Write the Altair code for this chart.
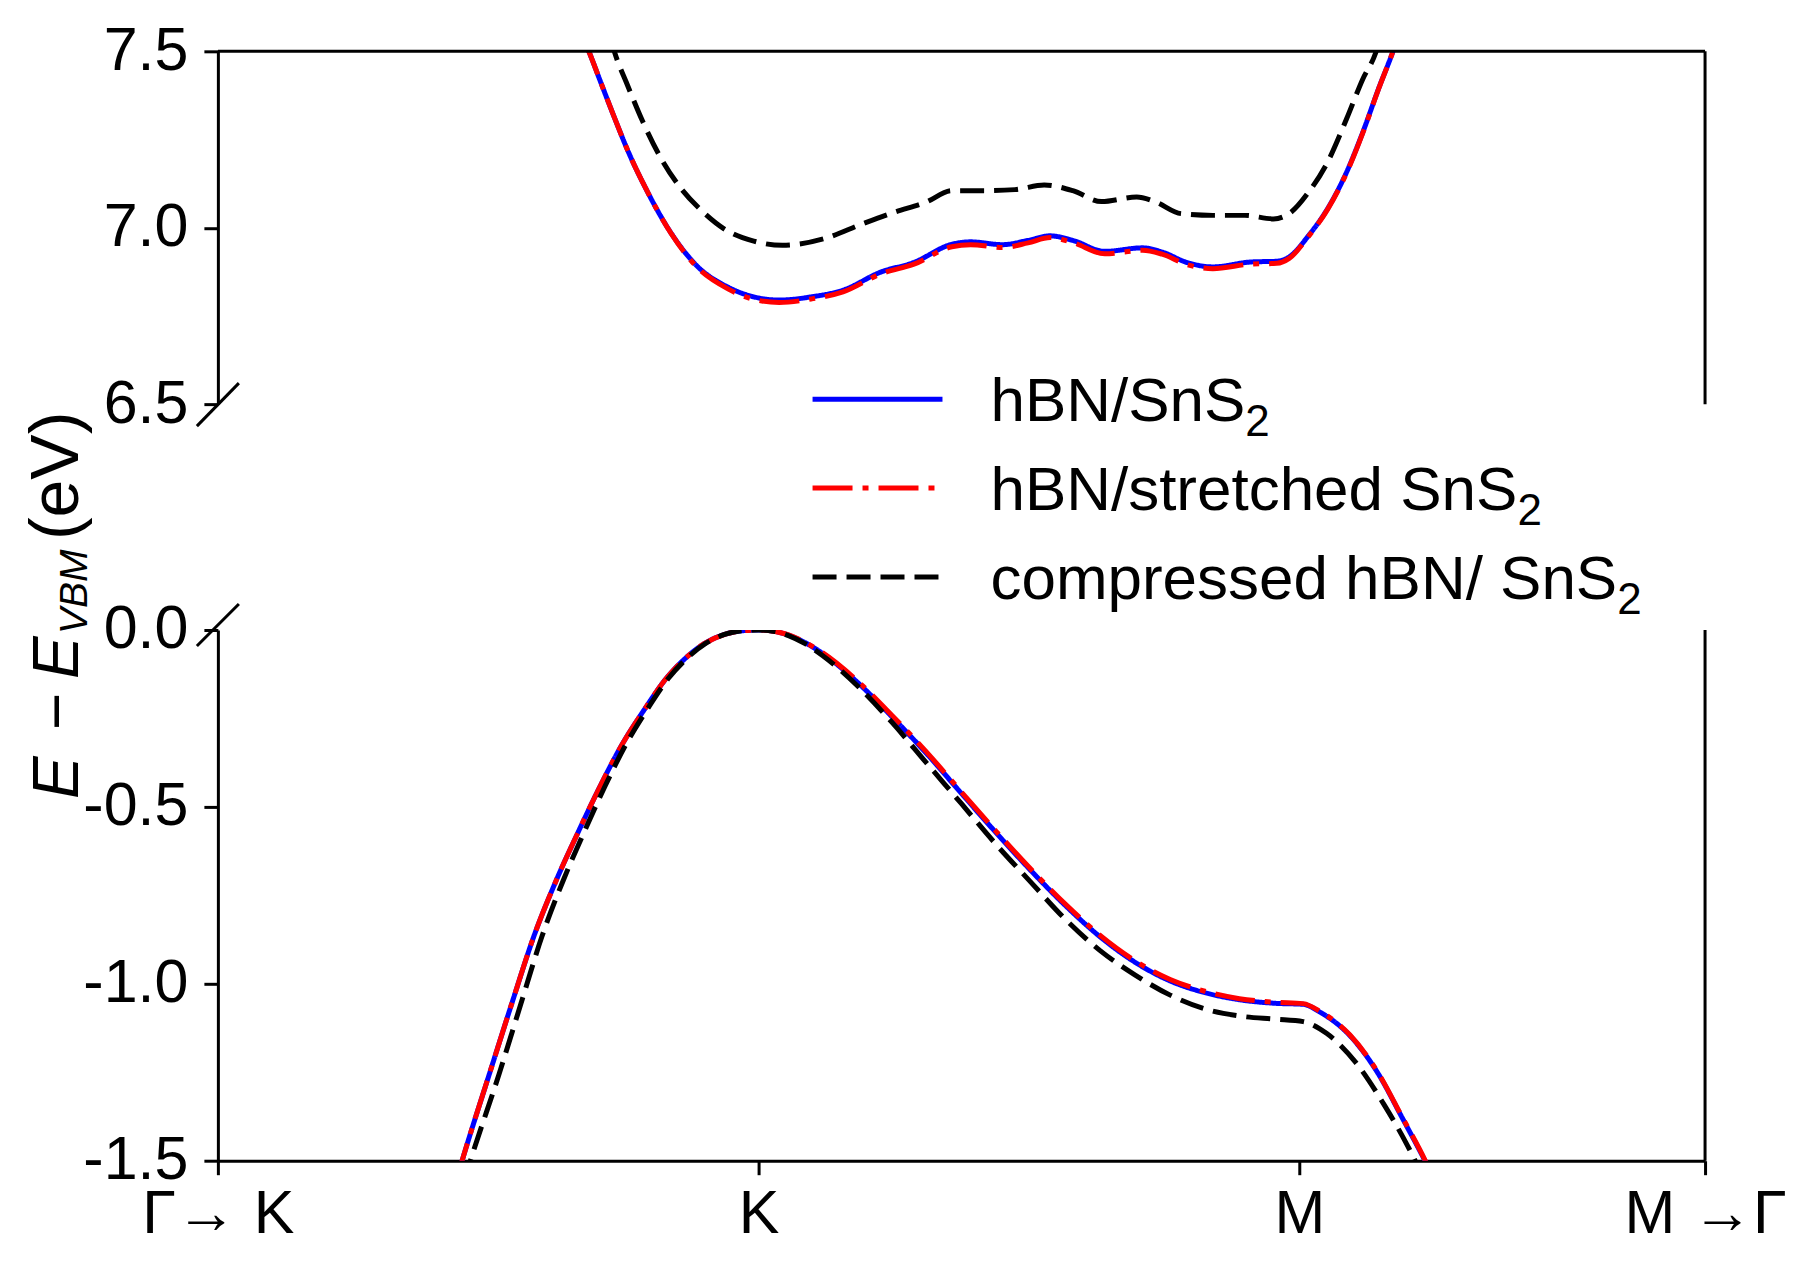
import altair as alt
import pandas as pd

# ---------------- data ----------------
# conduction band, hBN/SnS2 and hBN/stretched SnS2 (same k grid)
cb_k = [0.675, 0.687, 0.708, 0.732, 0.761, 0.791, 0.838, 0.885, 0.944, 0.991,
        1.038, 1.097, 1.156, 1.227, 1.286, 1.357, 1.392, 1.451, 1.498, 1.539,
        1.581, 1.640, 1.710, 1.746, 1.793, 1.840, 1.911, 1.958, 1.981, 2.017,
        2.052, 2.087, 2.117, 2.146, 2.172, 2.182]
cb_hbn_sns2 = [7.54, 7.496, 7.412, 7.317, 7.208, 7.112, 6.985, 6.893, 6.831, 6.804,
               6.795, 6.804, 6.823, 6.875, 6.901, 6.953, 6.960, 6.952, 6.964, 6.977,
               6.964, 6.933, 6.943, 6.931, 6.901, 6.889, 6.903, 6.905, 6.917, 6.978,
               7.054, 7.157, 7.270, 7.393, 7.496, 7.54]
cb_hbn_stretched = [7.54, 7.496, 7.412, 7.317, 7.208, 7.112, 6.984, 6.890, 6.826, 6.797,
                    6.788, 6.798, 6.818, 6.870, 6.896, 6.946, 6.952, 6.944, 6.957, 6.972,
                    6.958, 6.926, 6.936, 6.925, 6.895, 6.884, 6.897, 6.899, 6.913, 6.976,
                    7.052, 7.155, 7.268, 7.392, 7.496, 7.54]
# conduction band, compressed hBN/SnS2
cbc_k = [0.725, 0.738, 0.755, 0.785, 0.820, 0.856, 0.897, 0.938, 0.991, 1.044,
         1.121, 1.192, 1.251, 1.310, 1.357, 1.416, 1.474, 1.528, 1.581, 1.634,
         1.699, 1.734, 1.781, 1.840, 1.899, 1.952, 1.981, 2.017, 2.052, 2.087,
         2.117, 2.141, 2.150]
cb_compressed = [7.54, 7.477, 7.413, 7.303, 7.195, 7.112, 7.045, 6.995, 6.962, 6.950,
                 6.969, 7.011, 7.044, 7.073, 7.105, 7.105, 7.108, 7.121, 7.105, 7.074,
                 7.087, 7.073, 7.040, 7.035, 7.035, 7.025, 7.040, 7.101, 7.186, 7.308,
                 7.421, 7.496, 7.54]
# valence band, hBN/SnS2 and hBN/stretched SnS2
vb_k = [0.440, 0.452, 0.502, 0.543, 0.584, 0.625, 0.666, 0.707, 0.748, 0.789,
        0.830, 0.863, 0.900, 0.940, 0.970, 1.000, 1.030, 1.054, 1.085, 1.118,
        1.182, 1.247, 1.311, 1.375, 1.439, 1.504, 1.568, 1.632, 1.697, 1.761,
        1.825, 1.889, 1.954, 2.007, 2.039, 2.093, 2.146, 2.189, 2.232, 2.245]
vb_hbn_sns2 = [-1.56, -1.498, -1.255, -1.058, -0.867, -0.710, -0.572, -0.441, -0.322, -0.224,
               -0.135, -0.082, -0.038, -0.011, -0.002, 0.000, -0.004, -0.014, -0.035, -0.066,
               -0.147, -0.246, -0.350, -0.462, -0.573, -0.681, -0.780, -0.868, -0.940, -0.992,
               -1.025, -1.045, -1.055, -1.058, -1.081, -1.146, -1.255, -1.376, -1.500, -1.54]
vb_hbn_stretched = [-1.56, -1.498, -1.255, -1.058, -0.867, -0.710, -0.572, -0.441, -0.322, -0.224,
                    -0.135, -0.082, -0.038, -0.011, -0.002, 0.000, -0.004, -0.013, -0.034, -0.064,
                    -0.143, -0.242, -0.346, -0.458, -0.569, -0.677, -0.776, -0.864, -0.936, -0.988,
                    -1.021, -1.042, -1.052, -1.056, -1.079, -1.144, -1.253, -1.374, -1.498, -1.54]
# valence band, compressed hBN/SnS2
vbc_k = [0.455, 0.467, 0.520, 0.560, 0.599, 0.638, 0.677, 0.716, 0.755, 0.794,
         0.834, 0.866, 0.902, 0.940, 0.970, 1.000, 1.030, 1.054, 1.085, 1.118,
         1.182, 1.247, 1.311, 1.375, 1.439, 1.504, 1.568, 1.632, 1.697, 1.761,
         1.825, 1.889, 1.954, 2.007, 2.050, 2.104, 2.157, 2.200, 2.214, 2.225]
vb_compressed = [-1.56, -1.50, -1.255, -1.058, -0.867, -0.710, -0.572, -0.441, -0.322, -0.224,
                 -0.135, -0.082, -0.038, -0.011, -0.002, 0.000, -0.004, -0.015, -0.038, -0.072,
                 -0.157, -0.262, -0.377, -0.491, -0.606, -0.714, -0.819, -0.907, -0.976, -1.032,
                 -1.071, -1.091, -1.100, -1.107, -1.140, -1.222, -1.343, -1.458, -1.50, -1.54]

k_tick_pos = [0, 1, 2, 2.75]
k_tick_labels = ["Γ→ K", "K", "M", "M →Γ"]
top_ticks = [6.5, 7.0, 7.5]
bottom_ticks = [-1.5, -1.0, -0.5, 0.0]
top_range = [6.5, 7.5]
bottom_range = [-1.5, 0.0]
k_range = [0, 2.75]

series_labels = ["hBN/SnS", "hBN/stretched SnS", "compressed hBN/ SnS"]
series_sub = "2"
series_colors = ["#0000ff", "#ff0000", "#000000"]
series_dash = [[1, 0], [40, 10, 6, 10], [24, 10]]

# y-axis title pieces: text, font size, style, start (px along the axis), baseline shift
title_pieces = [("E", 64, "italic", 169, 0), ("−", 64, "normal", 100, 0),
                ("E", 64, "italic", 49, 0), ("VBM", 39, "italic", 4, 9),
                ("(eV)", 68, "normal", -90, 0)]

# ---------------- layout constants ----------------
FONT = "Liberation Sans"
W, H_TOP, H_BOT, GAP = 1488, 353, 531, 226
TICK_FS, LEG_FS, LEG_SUB_FS = 61, 62, 44
LW = 5

# Arial / Liberation Sans advance widths (1/1000 em)
ADV = {'E': 667, ' ': 278, 'V': 667, 'B': 667, 'M': 833, '(': 333,
       'e': 556, ')': 333, 'h': 556, 'N': 722, '/': 278, 'S': 667, 'n': 556,
       's': 500, 't': 278, 'r': 333, 'c': 500, 'd': 556, 'o': 556, 'm': 833,
       'p': 556}


def tw(s, size):
    return sum(ADV[c] for c in s) * size / 1000.0


xscale = alt.Scale(domain=k_range, nice=False, zero=False)
yscale_top = alt.Scale(domain=top_range, nice=False, zero=False)
yscale_bot = alt.Scale(domain=bottom_range, nice=False, zero=False)

ylab = "(datum.value < 0 ? '-' : '') + format(abs(datum.value), '.1f')"
axis_common = dict(labelFont=FONT, labelFontSize=TICK_FS, labelColor="black",
                   domainColor="black", domainWidth=3, tickColor="black",
                   tickWidth=3, tickSize=14, grid=False, title=None)
top_yaxis = alt.Axis(values=top_ticks, labelExpr=ylab, labelPadding=16, **axis_common)
bot_yaxis = alt.Axis(values=bottom_ticks, labelExpr=ylab, labelPadding=16, **axis_common)
lab_map = "{" + ",".join(f"'{p}': '{l}'" for p, l in zip(k_tick_pos, k_tick_labels)) + "}"
bot_xaxis = alt.Axis(values=k_tick_pos, labelExpr=f"{lab_map}[toString(datum.value)]",
                     labelPadding=10, labelFlush=False, labelOverlap=False, **axis_common)

one = pd.DataFrame({"a": [0]})


def panel_enc(xaxis, yscale, yaxis):
    return (alt.X("k:Q", scale=xscale, axis=xaxis),
            alt.Y("E:Q", scale=yscale, axis=yaxis))


def band(k, e, i, xaxis, yscale, yaxis):
    X, Y = panel_enc(xaxis, yscale, yaxis)
    return alt.Chart(pd.DataFrame({"k": k, "E": e})).mark_line(
        clip=True, color=series_colors[i], strokeWidth=LW, interpolate="monotone",
        strokeDash=series_dash[i]).encode(x=X, y=Y)


def rule_val(x1, x2, y1, y2):
    return alt.Chart(one).mark_rule(color="black", strokeWidth=3).encode(
        x=alt.value(x1), x2=alt.value(x2), y=alt.value(y1), y2=alt.value(y2))


def text_val(x, y, s, size, **kw):
    return alt.Chart(one).mark_text(text=s, font=FONT, fontSize=size, color="black",
                                    align="left", baseline="alphabetic", **kw).encode(
        x=alt.value(x), y=alt.value(y))


# ---------------- top panel (conduction band) ----------------
Xt, Yt = panel_enc(None, yscale_top, top_yaxis)
top_layers = [
    band(cb_k, cb_hbn_sns2, 0, None, yscale_top, top_yaxis),
    band(cb_k, cb_hbn_stretched, 1, None, yscale_top, top_yaxis),
    band(cbc_k, cb_compressed, 2, None, yscale_top, top_yaxis),
    alt.Chart(pd.DataFrame({"k": [k_range[0]], "k2": [k_range[1]], "E": [top_range[1]]}))
    .mark_rule(color="black", strokeWidth=3).encode(x=Xt, x2="k2:Q", y=Yt),
    alt.Chart(pd.DataFrame({"k": [k_range[1]], "E": [top_range[0]], "E2": [top_range[1]]}))
    .mark_rule(color="black", strokeWidth=3).encode(x=Xt, y=Yt, y2="E2:Q"),
    rule_val(-21, 21, H_TOP + 22, H_TOP - 21),
]
# legend
leg_x_line0, leg_x_line1, leg_x_text = 595, 725, 773
for i, lab in enumerate(series_labels):
    base = 370 + 89 * i
    top_layers.append(
        alt.Chart(one).mark_rule(color=series_colors[i], strokeWidth=LW,
                                 strokeDash=series_dash[i]).encode(
            x=alt.value(leg_x_line0), x2=alt.value(leg_x_line1), y=alt.value(base - 22)))
    top_layers.append(text_val(leg_x_text, base, lab, LEG_FS))
    top_layers.append(text_val(leg_x_text + tw(lab, LEG_FS), base + 15, series_sub, LEG_SUB_FS))

top = alt.layer(*top_layers).properties(width=W, height=H_TOP)

# ---------------- bottom panel (valence band) ----------------
Xb, Yb = panel_enc(bot_xaxis, yscale_bot, bot_yaxis)
bot_layers = [
    band(vb_k, vb_hbn_sns2, 0, bot_xaxis, yscale_bot, bot_yaxis),
    band(vb_k, vb_hbn_stretched, 1, bot_xaxis, yscale_bot, bot_yaxis),
    band(vbc_k, vb_compressed, 2, bot_xaxis, yscale_bot, bot_yaxis),
    alt.Chart(pd.DataFrame({"k": [k_range[1]], "E": [bottom_range[0]], "E2": [bottom_range[1]]}))
    .mark_rule(color="black", strokeWidth=3).encode(x=Xb, y=Yb, y2="E2:Q"),
    rule_val(-21, 21, 16, -26),
]
base_x = -140
for s, fs, style, start, shift in title_pieces:
    bot_layers.append(text_val(base_x + shift, start, s, fs, angle=270, fontStyle=style))

bottom = alt.layer(*bot_layers).properties(width=W, height=H_BOT)

chart = alt.vconcat(top, bottom, spacing=GAP, bounds="flush").properties(
    padding={"left": 15, "top": 12, "right": 20, "bottom": 10},
    background="white",
).configure_view(stroke=None)

chart.save("out.html", embed_options={"renderer": "svg", "actions": False})
